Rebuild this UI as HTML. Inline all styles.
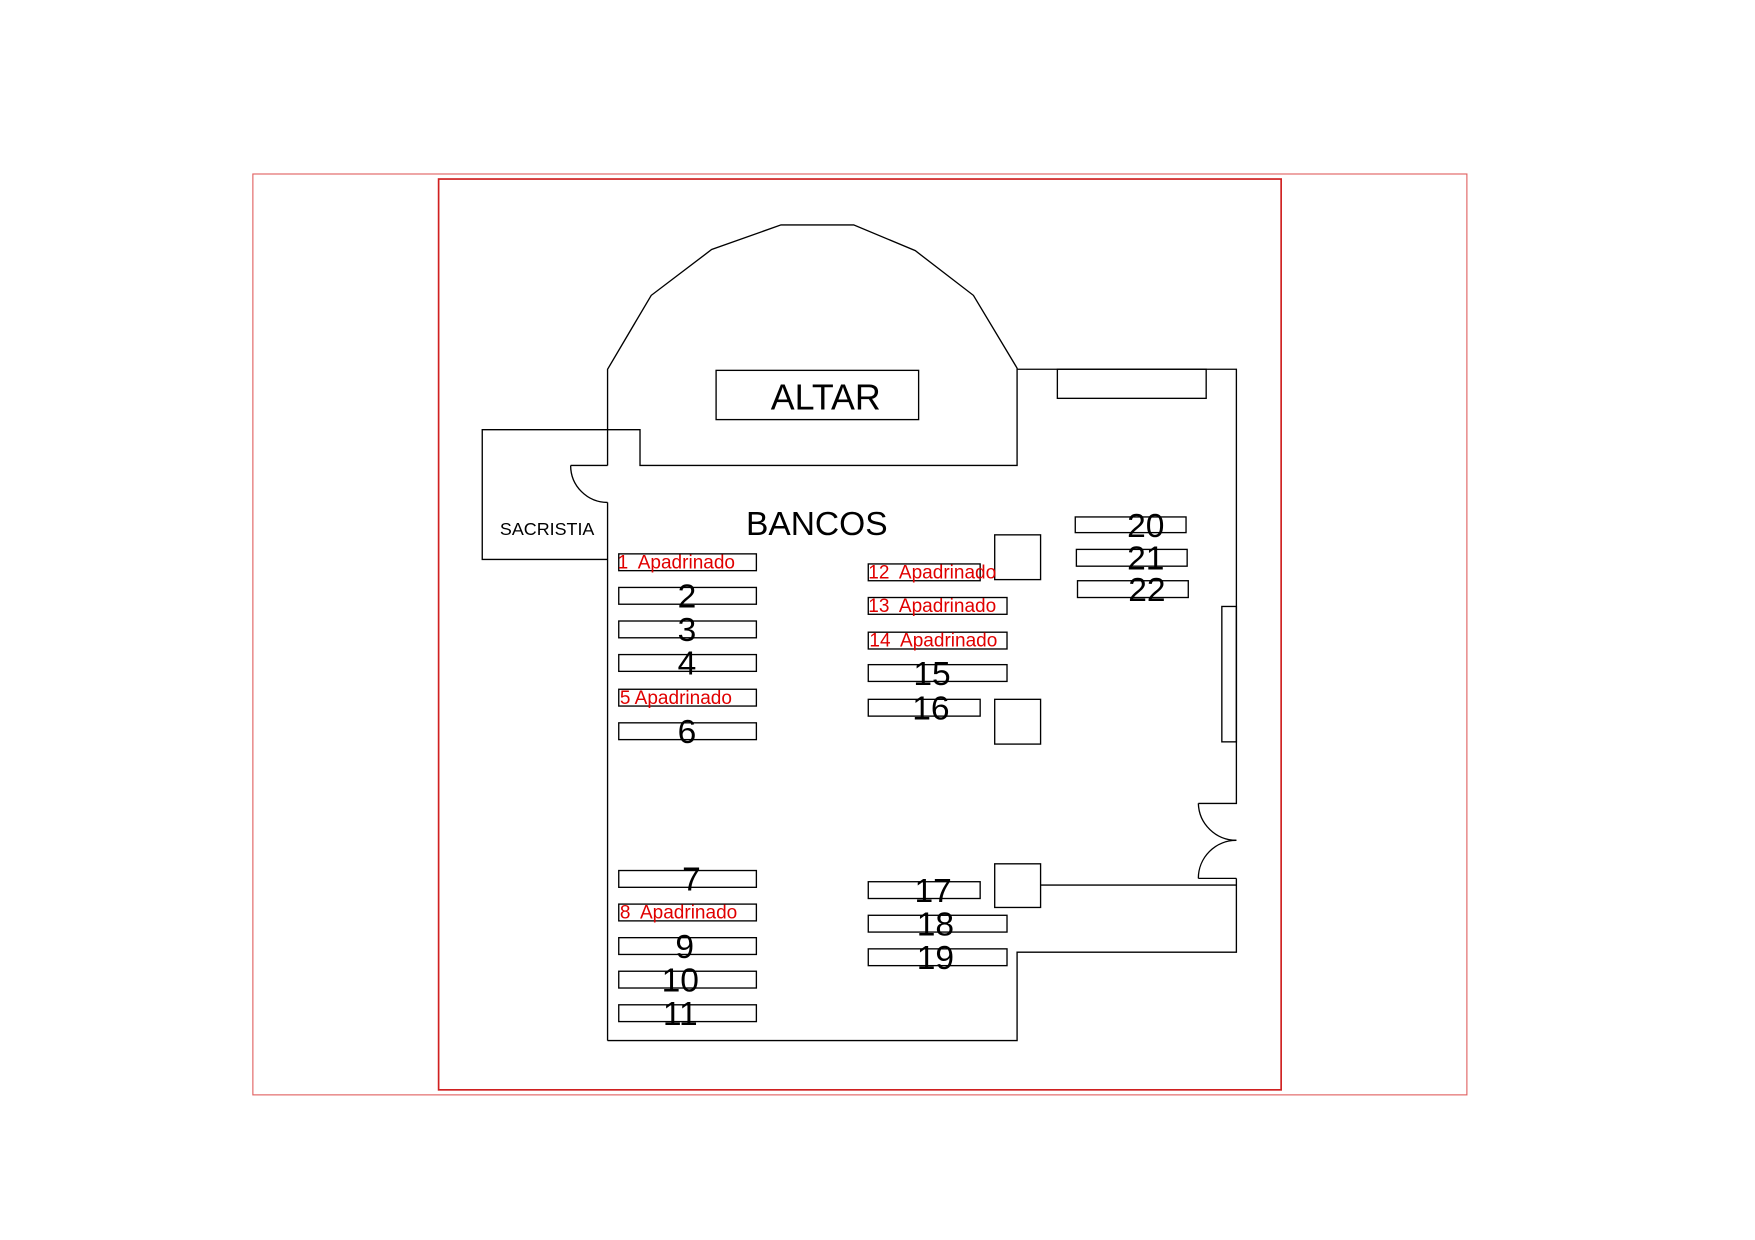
<!DOCTYPE html>
<html><head><meta charset="utf-8"><style>
html,body{margin:0;padding:0;background:#fff;}
svg{display:block;}
text{font-family:"Liberation Sans",sans-serif;white-space:pre;}
</style></head><body>
<svg width="1755" height="1240" viewBox="0 0 1568.5 1108.2" preserveAspectRatio="none" xmlns="http://www.w3.org/2000/svg" xml:space="preserve">
<rect x="226" y="155.5" width="1085" height="823" fill="none" stroke="#e06060" stroke-width="1"/>
<rect x="392" y="160" width="753" height="814" fill="none" stroke="#d02020" stroke-width="1.5"/>
<g fill="none" stroke="#000" stroke-width="1.2">
<polyline points="543,416 543,330 582,264 636,223 698,201 763,201 818,224 870,264 909,329 909,416 572,416 572,384 431,384 431,500 543,500"/>
<line x1="543" y1="449" x2="543" y2="930"/>
<line x1="510" y1="416" x2="543" y2="416"/>
<path d="M510,416 A33,33 0 0 0 543,449"/>
<polyline points="543,930 909,930 909,851 1105,851 1105,785"/>
<polyline points="909,330 1105,330 1105,718 1071,718"/>
<path d="M1071,718 A34,34 0 0 0 1105,751"/>
<path d="M1105,751 A34,34 0 0 0 1071,785"/>
<line x1="1071" y1="785" x2="1105" y2="785"/>
<line x1="930" y1="791" x2="1105" y2="791"/>
<rect x="945" y="330" width="133" height="26"/>
<rect x="1092" y="542" width="13" height="121"/>
<rect x="640" y="331" width="181" height="44"/>
<rect x="889" y="478" width="41" height="40"/>
<rect x="889" y="625" width="41" height="40"/>
<rect x="889" y="772" width="41" height="39"/>
<rect x="553" y="495" width="123" height="15"/>
<rect x="553" y="525" width="123" height="15"/>
<rect x="553" y="555" width="123" height="15"/>
<rect x="553" y="585" width="123" height="15"/>
<rect x="553" y="616" width="123" height="15"/>
<rect x="553" y="646" width="123" height="15"/>
<rect x="553" y="778" width="123" height="15"/>
<rect x="553" y="808" width="123" height="15"/>
<rect x="553" y="838" width="123" height="15"/>
<rect x="553" y="868" width="123" height="15"/>
<rect x="553" y="898" width="123" height="15"/>
<rect x="776" y="504" width="100" height="15"/>
<rect x="776" y="534" width="124" height="15"/>
<rect x="776" y="565" width="124" height="15"/>
<rect x="776" y="594" width="124" height="15"/>
<rect x="776" y="625" width="100" height="15"/>
<rect x="776" y="788" width="100" height="15"/>
<rect x="776" y="818" width="124" height="15"/>
<rect x="776" y="848" width="124" height="15"/>
<rect x="961" y="462" width="99" height="14"/>
<rect x="962" y="491" width="99" height="15"/>
<rect x="963" y="519" width="99" height="15"/>
</g>
<g fill="#000">
<text x="738" y="366" font-size="32" text-anchor="middle">ALTAR</text>
<text x="730" y="478" font-size="30" text-anchor="middle">BANCOS</text>
<text x="489" y="478" font-size="16" text-anchor="middle">SACRISTIA</text>
</g>
<g fill="#000" font-size="30" text-anchor="middle">
<text x="614" y="543">2</text>
<text x="614" y="573">3</text>
<text x="614" y="603">4</text>
<text x="614" y="664">6</text>
<text x="618" y="796">7</text>
<text x="612" y="856">9</text>
<text x="608" y="886">10</text>
<text x="608" y="916">11</text>
<text x="833" y="612">15</text>
<text x="832" y="643">16</text>
<text x="834" y="806">17</text>
<text x="836" y="836">18</text>
<text x="836" y="866">19</text>
<text x="1024" y="480">20</text>
<text x="1024" y="509">21</text>
<text x="1025" y="537">22</text>
</g>
<g fill="#e00000" font-size="17">
<text x="552" y="508">1  Apadrinado</text>
<text x="554" y="629">5 Apadrinado</text>
<text x="554" y="821">8  Apadrinado</text>
<text x="776" y="517">12  Apadrinado</text>
<text x="776" y="547">13  Apadrinado</text>
<text x="777" y="578">14  Apadrinado</text>
</g>
</svg>
</body></html>
